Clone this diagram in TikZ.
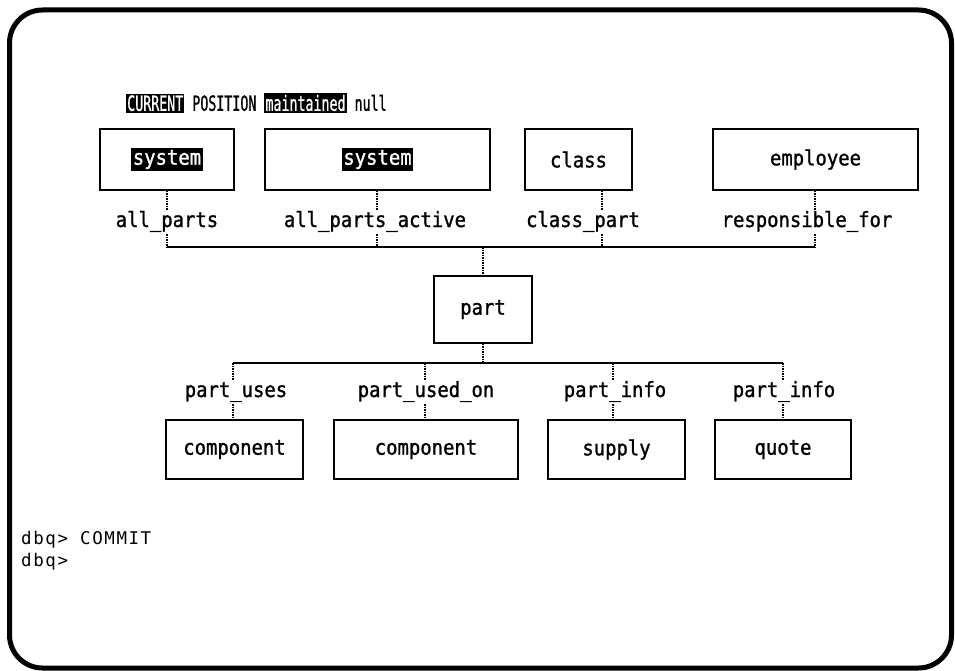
\documentclass[tikz,border=0pt]{standalone}
\usepackage{fontspec}
\usepackage{xcolor}
\usepackage{graphicx}
\newfontfamily\termfont[FakeStretch=0.9, FakeBold=1.2]{DejaVu Sans Mono}
\newfontfamily\statusfont[FakeBold=1.2]{DejaVu Sans Mono}
\newfontfamily\promptfont[LetterSpace=9]{DejaVu Sans Mono}
\newcommand\inv[1]{{\setlength{\fboxsep}{1.5pt}\colorbox{black}{\textcolor{white}{#1}}}}
\tikzset{
  screen/.style={line width=5pt, rounded corners=33pt},
  entity/.style={draw, line width=1.6pt, inner sep=0pt, minimum height=61pt,
    font=\termfont\fontsize{21}{22}\selectfont},
  rel/.style={inner xsep=0pt, inner ysep=3pt, text height=14pt, text depth=4pt,
    font=\termfont\fontsize{21}{22}\selectfont},
  link/.style={line width=2pt, dash pattern=on 1.5pt off 1pt},
  bus/.style={line width=2.2pt},
  prompt/.style={anchor=west, inner sep=0pt, font=\promptfont\fontsize{17.5}{19}\selectfont}
}
\begin{document}
\begin{tikzpicture}[x=1pt, y=-1pt]
\useasboundingbox (0,0) rectangle (955,671);
\draw[screen] (9.5,10) rectangle (951.5,668);

% status line
\node[anchor=west, inner sep=0pt] (status) at (126,103)
  {\scalebox{0.7}[1.1]{\statusfont\fontsize{19}{21}\selectfont\inv{CURRENT} POSITION \inv{maintained} null}};

% owner records
\node[entity, minimum width=134pt] (own1) at (167,159.5) {\inv{system}};
\node[entity, minimum width=225pt] (own2) at (377.5,159.5) {\inv{system}};
\node[entity, minimum width=107pt] (own3) at (578.5,159.5) {class};
\node[entity, minimum width=205pt] (own4) at (815.5,159.5) {employee};

% set names above part
\node[rel] (set1) at (167,222) {all\_parts};
\node[rel] (set2) at (375,222) {all\_parts\_active};
\node[rel] (set3) at (583,222) {class\_part};
\node[rel] (set4) at (807,222) {responsible\_for};

\coordinate (up1) at (167,247);
\coordinate (up2) at (377,247);
\coordinate (up3) at (602,247);
\coordinate (up4) at (815,247);
\coordinate (upp) at (483,247);

% current record
\node[entity, minimum width=98pt, minimum height=67pt] (part) at (483,309.5) {part};

% set names below part
\node[rel] (sub1) at (236,392) {part\_uses};
\node[rel] (sub2) at (426,392) {part\_used\_on};
\node[rel] (sub3) at (615,392) {part\_info};
\node[rel] (sub4) at (784,392) {part\_info};

\coordinate (dn1) at (233,363);
\coordinate (dn2) at (425,363);
\coordinate (dn3) at (613,363);
\coordinate (dn4) at (783,363);
\coordinate (dnp) at (483,363);

% member records
\node[entity, minimum width=137pt, minimum height=59pt] (mem1) at (234.5,449.5) {component};
\node[entity, minimum width=184pt, minimum height=59pt] (mem2) at (426,449.5) {component};
\node[entity, minimum width=137pt, minimum height=59pt] (mem3) at (616.5,449.5) {supply};
\node[entity, minimum width=136pt, minimum height=59pt] (mem4) at (783,449.5) {quote};

% upper connectors
\foreach \i in {1,...,4} {
  \draw[link] (own\i.south -| up\i) -- (set\i.north -| up\i);
  \draw[link] (set\i.south -| up\i) -- (up\i);
}
\draw[bus] (up1) -- (up4);
\draw[link] (upp) -- (part.north);

% lower connectors
\draw[link] (part.south) -- (dnp);
\draw[bus] (dn1) -- (dn4);
\foreach \i in {1,...,4} {
  \draw[link] (dn\i) -- (sub\i.north -| dn\i);
  \draw[link] (sub\i.south -| dn\i) -- (mem\i.north -| dn\i);
}

% command lines
\node[prompt] (cmd1) at (21,540) {dbq> COMMIT};
\node[prompt] (cmd2) at (21,562) {dbq>};
\end{tikzpicture}
\end{document}
